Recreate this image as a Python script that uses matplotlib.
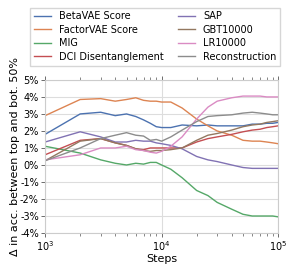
import matplotlib; matplotlib.use("Agg")
import matplotlib.pyplot as plt
from matplotlib.ticker import FuncFormatter

steps = [1000, 2000, 3000, 4000, 5000, 6000, 7000, 8000, 9000, 10000,
         12000, 15000, 20000, 25000, 30000, 40000, 50000, 60000, 70000, 80000, 90000, 100000]

betavae = [1.8, 3.0, 3.1, 2.9, 3.0, 2.85, 2.65, 2.45, 2.25, 2.2,
           2.2, 2.35, 2.3, 2.35, 2.3, 2.3, 2.3, 2.4, 2.4, 2.45, 2.45, 2.5]
factorvae = [2.9, 3.85, 3.9, 3.75, 3.85, 3.95, 3.8, 3.75, 3.75, 3.7,
             3.7, 3.35, 2.7, 2.3, 2.0, 1.75, 1.45, 1.4, 1.4, 1.35, 1.3, 1.25]
mig = [1.1, 0.7, 0.3, 0.1, 0.0, 0.1, 0.05, 0.15, 0.15, 0.0,
       -0.25, -0.75, -1.5, -1.8, -2.2, -2.6, -2.9, -3.0, -3.0, -3.0, -3.0, -3.05]
dci = [0.6, 1.45, 1.55, 1.3, 1.15, 0.95, 0.9, 1.0, 1.0, 1.0,
       1.0, 1.0, 1.35, 1.55, 1.65, 1.8, 1.95, 2.05, 2.1, 2.2, 2.25, 2.3]
sap = [1.35, 1.95, 1.65, 1.35, 1.35, 1.45, 1.4, 1.4, 1.3, 1.25,
       1.15, 0.95, 0.5, 0.3, 0.2, 0.0, -0.15, -0.2, -0.2, -0.2, -0.2, -0.2]
gbt = [0.25, 1.4, 1.55, 1.3, 1.15, 0.95, 0.85, 0.8, 0.85, 0.85,
       0.9, 1.0, 1.45, 1.75, 1.85, 2.05, 2.25, 2.35, 2.4, 2.5, 2.55, 2.6]
lr = [0.3, 0.6, 1.0, 1.0, 1.1, 0.9, 0.85, 0.75, 0.7, 0.8,
      1.1, 1.65, 2.7, 3.4, 3.75, 3.95, 4.05, 4.05, 4.05, 4.0, 4.0, 4.0]
recon = [0.25, 1.0, 1.55, 1.75, 1.9, 1.75, 1.7, 1.45, 1.5, 1.4,
         1.65, 2.05, 2.55, 2.85, 2.9, 2.95, 3.05, 3.1, 3.05, 3.0, 2.95, 2.95]

labels = ["BetaVAE Score", "FactorVAE Score", "MIG", "DCI Disentanglement",
          "SAP", "GBT10000", "LR10000", "Reconstruction"]
series = [betavae, factorvae, mig, dci, sap, gbt, lr, recon]
colors = ["#4c72b0", "#dd8452", "#55a868", "#c44e52",
          "#8172b3", "#937860", "#da8bc3", "#8c8c8c"]

plt.rcParams["font.family"] = "DejaVu Sans"
fig = plt.figure(figsize=(2.93, 2.70), dpi=100)
ax = fig.add_axes([0.154, 0.137, 0.795, 0.567])

for lab, ys, c in zip(labels, series, colors):
    ax.plot(steps, ys, color=c, lw=1.0, label=lab)

ax.set_xscale("log")
ax.set_xlim(1e3, 1e5)
ax.set_ylim(-4, 5)
ax.set_yticks(range(-4, 6))
ax.yaxis.set_major_formatter(FuncFormatter(lambda v, p: f"{v:.0f}%"))
ax.grid(True, which="major", color="#dddddd", lw=0.8)
ax.set_axisbelow(True)
for s in ax.spines.values():
    s.set_color("#cccccc"); s.set_linewidth(0.8)
ax.tick_params(which="both", top=True, direction="out", color="#555555",
               labelsize=7, pad=1.5)
ax.tick_params(which="major", length=3, width=0.6)
ax.tick_params(which="minor", length=2, width=0.5)
ax.set_xlabel("Steps", fontsize=8, labelpad=1)
ax.set_ylabel("Δ in acc. between top and bot. 50%", fontsize=8, labelpad=0)

fig.legend(loc="upper left", bbox_to_anchor=(0.085, 0.99, 0.888, 0.0), mode="expand",
           ncol=2, fontsize=7, frameon=True, edgecolor="#cccccc", fancybox=False,
           handlelength=1.8, borderpad=0.4, labelspacing=0.35, columnspacing=1.0)

fig.savefig("out.png", dpi=100)
